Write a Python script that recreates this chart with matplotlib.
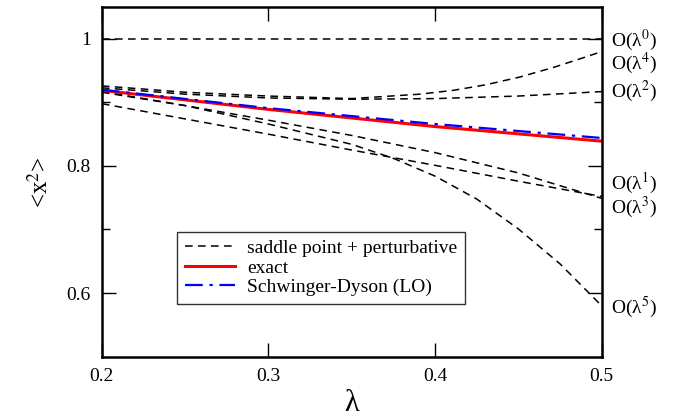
import matplotlib
matplotlib.use('Agg')
import matplotlib.pyplot as plt
from matplotlib.ticker import FixedLocator

plt.rcParams['font.family'] = ['Liberation Serif', 'DejaVu Serif']
plt.rcParams['mathtext.fontset'] = 'stix'

# data
lam = [0.2, 0.25, 0.3, 0.35, 0.4, 0.45, 0.5]
o0 = [1.0, 1.0, 1.0, 1.0, 1.0, 1.0, 1.0]
o1 = [0.898, 0.874, 0.850, 0.825, 0.801, 0.776, 0.752]
o2 = [0.923, 0.913, 0.907, 0.905, 0.906, 0.910, 0.917]
o3 = [0.916, 0.895, 0.872, 0.848, 0.821, 0.789, 0.749]
lam4 = [0.2, 0.25, 0.3, 0.35, 0.391, 0.411, 0.431, 0.451, 0.471, 0.491, 0.5]
o4 = [0.926, 0.916, 0.910, 0.906, 0.913, 0.919, 0.928, 0.940, 0.955, 0.972, 0.980]
lam5 = [0.2, 0.25, 0.3, 0.35, 0.375, 0.4, 0.425, 0.45, 0.475, 0.5]
o5 = [0.917, 0.895, 0.866, 0.834, 0.812, 0.784, 0.748, 0.701, 0.646, 0.580]
lam_ex = [0.2, 0.3, 0.4, 0.5]
exact = [0.919, 0.889, 0.862, 0.839]
sd_lo = [0.920, 0.891, 0.866, 0.844]

xticks = [0.2, 0.3, 0.4, 0.5]
xtick_labels = ['0.2', '0.3', '0.4', '0.5']
yticks = [0.6, 0.8, 1.0]
ytick_labels = ['0.6', '0.8', '1']

order_labels = ['O(λ$^0$)', 'O(λ$^4$)', 'O(λ$^2$)',
                'O(λ$^1$)', 'O(λ$^3$)', 'O(λ$^5$)']
label_y = [0.998, 0.962, 0.917, 0.772, 0.735, 0.578]

fig = plt.figure(figsize=(6.79, 4.18), dpi=100)
ax = fig.add_axes([0.150, 0.147, 0.736, 0.836])

dash = (0, (5, 3.5))
kw = dict(color='black', lw=1.1, linestyle=dash)
ax.plot(lam, o0, **kw, label='saddle point + perturbative')
ax.plot(lam, o1, **kw)
ax.plot(lam, o2, **kw)
ax.plot(lam, o3, **kw)
ax.plot(lam4, o4, **kw)
ax.plot(lam5, o5, **kw)
ax.plot(lam_ex, exact, color='red', lw=2.2, label='exact')
ax.plot(lam_ex, sd_lo, color='blue', lw=1.6, linestyle=(0, (8, 3, 1.5, 3)),
        label='Schwinger-Dyson (LO)')

for txt, yy in zip(order_labels, label_y):
    ax.text(1.018, yy, txt, transform=ax.get_yaxis_transform(), fontsize=14,
            va='center', ha='left')

ax.set_xlim(0.2, 0.5)
ax.set_ylim(0.5, 1.05)
ax.xaxis.set_major_locator(FixedLocator(xticks))
ax.yaxis.set_major_locator(FixedLocator(yticks))
ax.yaxis.set_minor_locator(FixedLocator([0.7, 0.9]))
ax.set_xticklabels(xtick_labels)
ax.set_yticklabels(ytick_labels)
ax.tick_params(which='both', direction='in', top=True, right=True, labelsize=14, pad=8)
ax.tick_params(which='major', length=10, width=1)
ax.tick_params(which='minor', length=6, width=1)
for sp in ax.spines.values():
    sp.set_linewidth(1.8)

ax.set_xlabel('λ', fontsize=22, labelpad=3)
ax.set_ylabel('<x$^2$>', fontsize=18, labelpad=10)

leg = ax.legend(loc='lower left', bbox_to_anchor=(0.150, 0.15), fontsize=14,
                frameon=True, fancybox=False, edgecolor='black', handlelength=2.6,
                borderpad=0.4, labelspacing=0.1, handletextpad=0.6, borderaxespad=0)
leg.get_frame().set_linewidth(1.0)

plt.savefig('out.png', dpi=100)
